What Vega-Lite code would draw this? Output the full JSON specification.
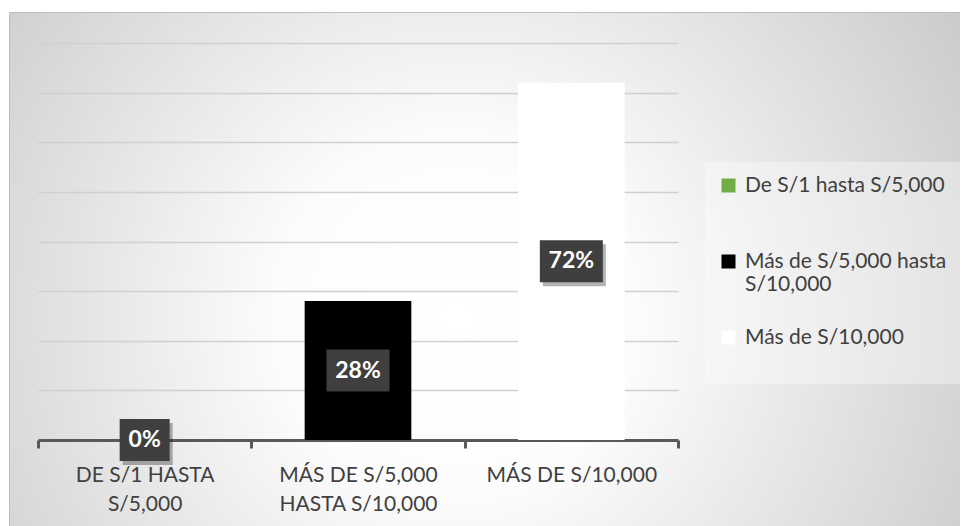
{
  "$schema": "https://vega.github.io/schema/vega-lite/v6.json",
  "width": 951,
  "height": 514,
  "autosize": {"type": "none"},
  "padding": {"left": 9, "top": 12, "right": 0, "bottom": 0},
  "background": "#ffffff",
  "config": {
    "font": "Lato",
    "view": {"stroke": "#bdbdbd", "strokeWidth": 1}
  },
  "view": {
    "fill": {
      "gradient": "radial",
      "x1": 0.47, "y1": 0.55, "x2": 0.47, "y2": 0.55,
      "r1": 0, "r2": 0.75,
      "stops": [
        {"offset": 0, "color": "#ffffff"},
        {"offset": 0.25, "color": "#fcfcfc"},
        {"offset": 1, "color": "#bcbcbc"}
      ]
    },
    "stroke": "#bdbdbd"
  },
  "data": {
    "values": [
      {"rango": "De S/1 hasta S/5,000", "value": 0},
      {"rango": "Más de S/5,000 hasta S/10,000", "value": 0.28},
      {"rango": "Más de S/10,000", "value": 0.72}
    ]
  },
  "encoding": {
    "x": {
      "field": "rango",
      "type": "nominal",
      "sort": null,
      "title": null,
      "scale": {"range": [29, 669], "paddingInner": 0, "paddingOuter": 0},
      "axis": {
        "offset": -86,
        "domainColor": "#595959",
        "domainWidth": 3,
        "tickColor": "#595959",
        "tickWidth": 3,
        "tickSize": 8,
        "tickBand": "extent",
        "labelAngle": 0,
        "labelFont": "Lato",
        "labelFontSize": 21,
        "labelColor": "#404040",
        "labelPadding": 16,
        "labelLineHeight": 29,
        "labelBaseline": "top",
        "labelLimit": 300,
        "labelExpr": "datum.value == 'De S/1 hasta S/5,000' ? ['DE S/1 HASTA','S/5,000'] : datum.value == 'Más de S/5,000 hasta S/10,000' ? ['MÁS DE S/5,000','HASTA S/10,000'] : datum.value == 'Más de S/10,000' ? 'MÁS DE S/10,000' : ''"
      }
    }
  },
  "layer": [
    {
      "mark": {"type": "bar", "width": {"band": 0.5}},
      "encoding": {
        "y": {
          "field": "value",
          "type": "quantitative",
          "title": null,
          "scale": {"domain": [0, 0.8], "range": [428, 31], "nice": false},
          "axis": {
            "values": [0, 0.1, 0.2, 0.3, 0.4, 0.5, 0.6, 0.7, 0.8],
            "labels": false,
            "ticks": false,
            "domain": false,
            "grid": true,
            "gridColor": "#d0d0d0",
            "gridWidth": 1.5
          }
        },
        "color": {
          "field": "rango",
          "type": "nominal",
          "sort": null,
          "scale": {
            "domain": ["De S/1 hasta S/5,000", "Más de S/5,000 hasta S/10,000", "Más de S/10,000"],
            "range": ["#70ad47", "#000000", "#ffffff"]
          },
          "legend": {
            "title": null,
            "orient": "none",
            "legendX": 696,
            "legendY": 150,
            "fillColor": "rgba(255,255,255,0.35)",
            "padding": 13,
            "symbolType": "square",
            "symbolSize": 196,
            "symbolStrokeWidth": 0,
            "symbolOpacity": 1,
            "labelFont": "Lato",
            "labelFontSize": 21,
            "labelColor": "#404040",
            "labelLimit": 240,
            "labelOffset": 6,
            "labelLineHeight": 27,
            "rowPadding": 31,
            "labelExpr": "datum.label == 'Más de S/5,000 hasta S/10,000' ? ['Más de S/5,000 hasta','S/10,000'] : [datum.label, '']"
          }
        }
      }
    },
    {
      "mark": {"type": "point", "filled": true, "color": "#000000", "opacity": 0.3, "xOffset": 3, "yOffset": 4},
      "encoding": {
        "y": {"field": "value", "type": "quantitative", "scale": {"domain": [0, 1.6], "range": [428, 31], "nice": false}, "axis": null},
        "shape": {"condition": {"test": "datum.value == 0", "value": "M-1,-0.84H1V0.84H-1Z"}, "value": "M-1,-0.667H1V0.667H-1Z"},
        "size": {"condition": {"test": "datum.value == 0", "value": 2500}, "value": 3969}
      }
    },
    {
      "mark": {"type": "point", "filled": true, "color": "#3f3f3f", "opacity": 1},
      "encoding": {
        "y": {"field": "value", "type": "quantitative", "scale": {"domain": [0, 1.6], "range": [428, 31], "nice": false}, "axis": null},
        "shape": {"condition": {"test": "datum.value == 0", "value": "M-1,-0.84H1V0.84H-1Z"}, "value": "M-1,-0.667H1V0.667H-1Z"},
        "size": {"condition": {"test": "datum.value == 0", "value": 2500}, "value": 3969}
      }
    },
    {
      "mark": {"type": "text", "color": "#ffffff", "font": "Lato", "fontWeight": "bold", "fontSize": 23, "baseline": "middle", "align": "center"},
      "encoding": {
        "y": {"field": "value", "type": "quantitative", "scale": {"domain": [0, 1.6], "range": [428, 31], "nice": false}, "axis": null},
        "text": {"field": "value", "type": "quantitative", "format": ".0%"}
      }
    }
  ],
  "resolve": {"scale": {"y": "independent"}}
}
